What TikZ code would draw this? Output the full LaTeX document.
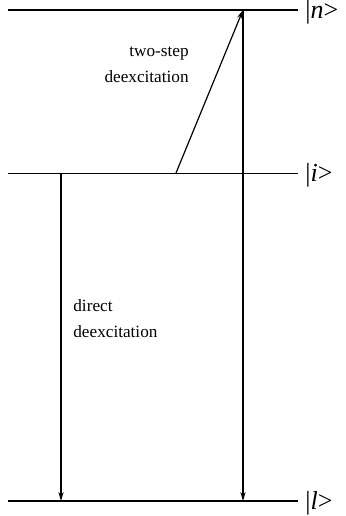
\documentclass[tikz,border=0pt]{standalone}
\usepackage{fontspec}
\setmainfont{Liberation Serif}
\usetikzlibrary{arrows.meta}

\begin{document}
\begin{tikzpicture}[
  x=0.5pt,y=-0.5pt,
  level/.style={line width=0.8pt},
  trans/.style={-{Stealth[length=4.5pt,width=2.6pt]},line width=0.6pt},
  ket/.style={anchor=base west,inner sep=0pt,font=\fontsize{13}{15}\selectfont},
  note/.style={inner sep=0pt,font=\fontsize{8.6}{13}\selectfont}
]
  \useasboundingbox (0,0) rectangle (346,516);

  % level lines
  \coordinate (nL) at (8,10);   \coordinate (nR) at (298,10);
  \coordinate (iL) at (8,173);  \coordinate (iR) at (298,173);
  \coordinate (lL) at (8,501);  \coordinate (lR) at (298,501);
  \draw[level] (nL) -- (nR);
  \draw[level,line width=0.5pt] (iL) -- (iR);
  \draw[level] (lL) -- (lR);

  \node[ket] (n) at (305,18) {|\textit{n}>};
  \node[ket] (i) at (305,181) {|\textit{i}>};
  \node[ket] (l) at (305,509) {|\textit{l}>};

  % transitions
  \coordinate (dTop) at (61,173);  \coordinate (dBot) at (61,501);
  \coordinate (sFoot) at (176,173); \coordinate (sTop) at (243,10);
  \coordinate (sBot) at (243,501);
  \draw[trans] (dTop) -- (dBot);
  \draw[trans] (sFoot) -- (sTop);
  \draw[trans] (sTop) -- (sBot);

  \node[note,anchor=base east,align=right] (twostep) at (189,82) {two-step\\deexcitation};
  \node[note,anchor=base west,align=left] (direct) at (73,337) {direct\\deexcitation};
\end{tikzpicture}
\end{document}
